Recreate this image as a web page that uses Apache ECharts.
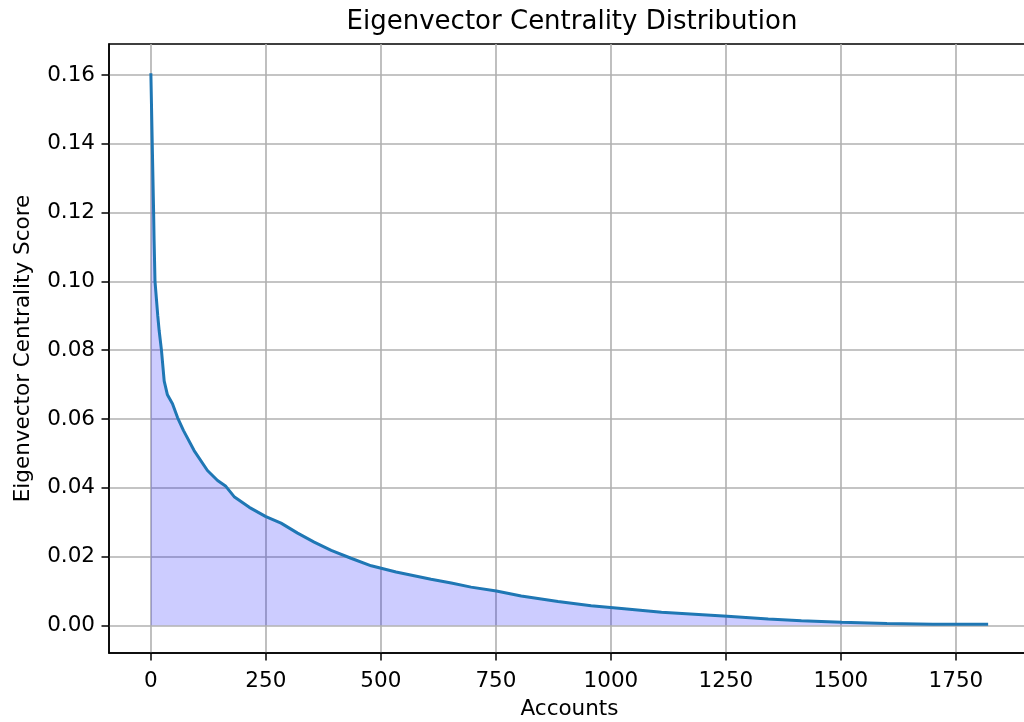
<!DOCTYPE html>
<html>
<head>
<meta charset="utf-8">
<title>Eigenvector Centrality Distribution</title>
<script src="https://cdn.jsdelivr.net/npm/echarts@6/dist/echarts.min.js"></script>
<style>
  html, body { margin: 0; padding: 0; background: #fff; }
  #chart { width: 1024px; height: 722px; }
</style>
</head>
<body>
<div id="chart"></div>
<script>
// Accounts ranked by score (index) and their eigenvector centrality
var accountIndex = [0, 3, 6, 7, 9, 15, 18, 23, 29, 36, 47, 58, 71, 94, 123, 145, 163, 181, 214, 250,
  283, 319, 355, 392, 435, 479, 533, 609, 653, 696, 751, 805, 885, 957, 1023, 1110, 1253, 1342,
  1414, 1501, 1600, 1700, 1820];
var centralityScore = [0.1605, 0.140, 0.120, 0.112, 0.100, 0.090, 0.0857, 0.080, 0.071, 0.067, 0.0644,
  0.0604, 0.0566, 0.0508, 0.0450, 0.0421, 0.0404, 0.0374, 0.0343, 0.0316, 0.0297, 0.0268, 0.0242,
  0.0218, 0.0195, 0.0173, 0.0155, 0.0134, 0.0123, 0.0111, 0.0100, 0.0085, 0.0069, 0.0057, 0.0049,
  0.0038, 0.0026, 0.0018, 0.0013, 0.0009, 0.0005, 0.0003, 0.0003];

var xTicks = [0, 250, 500, 750, 1000, 1250, 1500, 1750];
var yTicks = [0, 0.02, 0.04, 0.06, 0.08, 0.10, 0.12, 0.14, 0.16];

var seriesData = accountIndex.map(function (x, i) { return [x, centralityScore[i]]; });

var FONT = 'DejaVu Sans';
var chart = echarts.init(document.getElementById('chart'), null, { renderer: 'canvas' });

chart.setOption({
  animation: false,
  backgroundColor: '#ffffff',
  textStyle: { fontFamily: FONT },
  title: {
    text: 'Eigenvector Centrality Distribution',
    left: 567, top: 4, textAlign: 'center',
    textStyle: { fontFamily: FONT, fontSize: 26, fontWeight: 'normal', color: '#000' }
  },
  grid: {
    left: 109, top: 44, right: -6, bottom: 69,
    outerBoundsMode: 'none', containLabel: false,
    show: true, borderColor: '#000', borderWidth: 1.5, backgroundColor: 'transparent'
  },
  xAxis: {
    type: 'value', min: -91, max: 1911,
    name: 'Accounts', nameLocation: 'middle', nameGap: 45,
    nameTextStyle: { fontFamily: FONT, fontSize: 21.5, color: '#000' },
    axisLine: { onZero: false, lineStyle: { color: '#000', width: 1.5 } },
    axisTick: { show: true, inside: false, length: 7.5, customValues: xTicks,
      lineStyle: { color: '#000', width: 1.5 } },
    axisLabel: { customValues: xTicks, margin: 17, fontFamily: FONT, fontSize: 21.5, color: '#000',
      formatter: function (v) { return String(v); } },
    splitLine: { show: true, lineStyle: { color: '#b0b0b0', width: 1.6 } }
  },
  yAxis: {
    type: 'value', min: -0.00805, max: 0.169,
    name: 'Eigenvector Centrality Score', nameLocation: 'middle', nameGap: 75,
    nameTextStyle: { fontFamily: FONT, fontSize: 21.5, color: '#000' },
    axisLine: { show: true, onZero: false, lineStyle: { color: '#000', width: 1.5 } },
    axisTick: { show: true, inside: false, length: 7.5, customValues: yTicks,
      lineStyle: { color: '#000', width: 1.5 } },
    axisLabel: { customValues: yTicks, margin: 14, fontFamily: FONT, fontSize: 21.5, color: '#000',
      formatter: function (v) { return v.toFixed(2); } },
    splitLine: { show: true, lineStyle: { color: '#b0b0b0', width: 1.6 } }
  },
  series: [{
    type: 'line',
    data: seriesData,
    showSymbol: false,
    symbol: 'none',
    smooth: false,
    lineStyle: { color: '#1f77b4', width: 3 },
    areaStyle: { color: 'rgba(0,0,255,0.2)', opacity: 1, origin: 0 },
    z: 3
  }]
});
</script>
</body>
</html>
